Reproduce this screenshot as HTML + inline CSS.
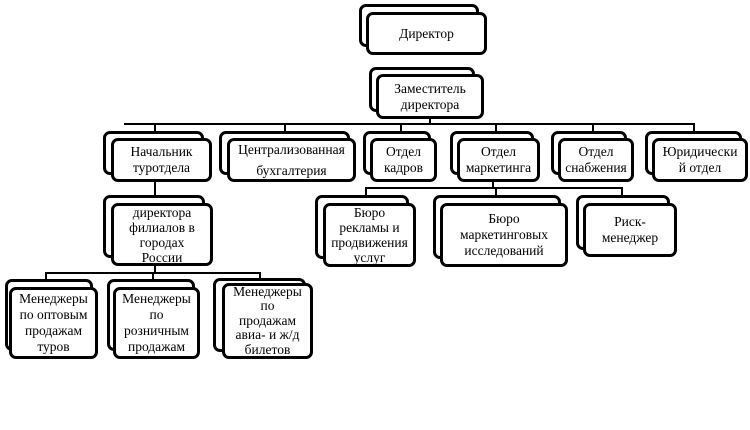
<!DOCTYPE html>
<html><head><meta charset="utf-8"><style>
body{margin:0;width:750px;height:430px;background:#fff;position:relative;overflow:hidden;font-family:"Liberation Serif","Noto Serif CJK SC",serif;}
.b{position:absolute;box-sizing:border-box;border:3px solid #000;border-radius:7px;background:#fff;}
.f{position:absolute;box-sizing:border-box;border:3px solid #000;border-radius:7px;background:#fff;display:flex;align-items:center;justify-content:center;text-align:center;font-size:13.5px;line-height:16px;color:#000;}
.l{position:absolute;background:#000;}
</style></head><body>
<div class="l" style="left:124px;top:123px;width:571px;height:2px"></div>
<div class="l" style="left:429px;top:118px;width:2px;height:6px"></div>
<div class="l" style="left:154px;top:124px;width:2px;height:8px"></div>
<div class="l" style="left:284px;top:124px;width:2px;height:8px"></div>
<div class="l" style="left:400px;top:124px;width:2px;height:8px"></div>
<div class="l" style="left:495px;top:124px;width:2px;height:8px"></div>
<div class="l" style="left:592px;top:124px;width:2px;height:8px"></div>
<div class="l" style="left:693px;top:124px;width:2px;height:8px"></div>
<div class="l" style="left:154px;top:182px;width:2px;height:14px"></div>
<div class="l" style="left:45px;top:272px;width:215px;height:2px"></div>
<div class="l" style="left:154px;top:266px;width:2px;height:7px"></div>
<div class="l" style="left:45px;top:272px;width:2px;height:8px"></div>
<div class="l" style="left:152px;top:272px;width:2px;height:8px"></div>
<div class="l" style="left:259px;top:272px;width:2px;height:7px"></div>
<div class="l" style="left:365px;top:187px;width:258px;height:2px"></div>
<div class="l" style="left:492px;top:182px;width:2px;height:6px"></div>
<div class="l" style="left:365px;top:187px;width:2px;height:9px"></div>
<div class="l" style="left:495px;top:187px;width:2px;height:9px"></div>
<div class="l" style="left:621px;top:187px;width:2px;height:9px"></div>

<div class="b" style="left:359px;top:4px;width:120px;height:43px"></div>
<div class="f" style="left:366px;top:12px;width:121px;height:43px">Директор</div>
<div class="b" style="left:369px;top:67px;width:106px;height:45px"></div>
<div class="f" style="left:376px;top:74px;width:108px;height:45px">Заместитель<br>директора</div>

<div class="b" style="left:103px;top:131px;width:101px;height:44px"></div>
<div class="f" style="left:111px;top:138px;width:101px;height:44px">Начальник<br>туротдела</div>
<div class="b" style="left:219px;top:131px;width:131px;height:44px"></div>
<div class="f" style="left:227px;top:138px;width:129px;height:44px;line-height:21px">Централизованная<br>бухгалтерия</div>
<div class="b" style="left:363px;top:131px;width:68px;height:44px"></div>
<div class="f" style="left:370px;top:138px;width:67px;height:44px">Отдел<br>кадров</div>
<div class="b" style="left:450px;top:131px;width:84px;height:44px"></div>
<div class="f" style="left:457px;top:138px;width:83px;height:44px">Отдел<br>маркетинга</div>
<div class="b" style="left:551px;top:131px;width:76px;height:44px"></div>
<div class="f" style="left:558px;top:138px;width:76px;height:44px">Отдел<br>снабжения</div>
<div class="b" style="left:645px;top:131px;width:97px;height:44px"></div>
<div class="f" style="left:652px;top:138px;width:96px;height:44px">Юридически<br>й отдел</div>

<div class="b" style="left:103px;top:195px;width:102px;height:63px"></div>
<div class="f" style="left:111px;top:203px;width:102px;height:63px;line-height:15px">директора<br>филиалов в<br>городах<br>России</div>

<div class="b" style="left:5px;top:279px;width:88px;height:72px"></div>
<div class="f" style="left:9px;top:287px;width:89px;height:72px">Менеджеры<br>по оптовым<br>продажам<br>туров</div>
<div class="b" style="left:107px;top:279px;width:88px;height:72px"></div>
<div class="f" style="left:113px;top:287px;width:87px;height:72px">Менеджеры<br>по<br>розничным<br>продажам</div>
<div class="b" style="left:213px;top:278px;width:93px;height:74px"></div>
<div class="f" style="left:222px;top:283px;width:91px;height:76px;line-height:14.5px">Менеджеры<br>по<br>продажам<br>авиа- и ж/д<br>билетов</div>

<div class="b" style="left:315px;top:195px;width:94px;height:64px"></div>
<div class="f" style="left:323px;top:203px;width:93px;height:64px;line-height:15px">Бюро<br>рекламы и<br>продвижения<br>услуг</div>
<div class="b" style="left:433px;top:195px;width:128px;height:64px"></div>
<div class="f" style="left:440px;top:203px;width:128px;height:64px">Бюро<br>маркетинговых<br>исследований</div>
<div class="b" style="left:576px;top:195px;width:94px;height:55px"></div>
<div class="f" style="left:583px;top:203px;width:94px;height:54px">Риск-<br>менеджер</div>
</body></html>
